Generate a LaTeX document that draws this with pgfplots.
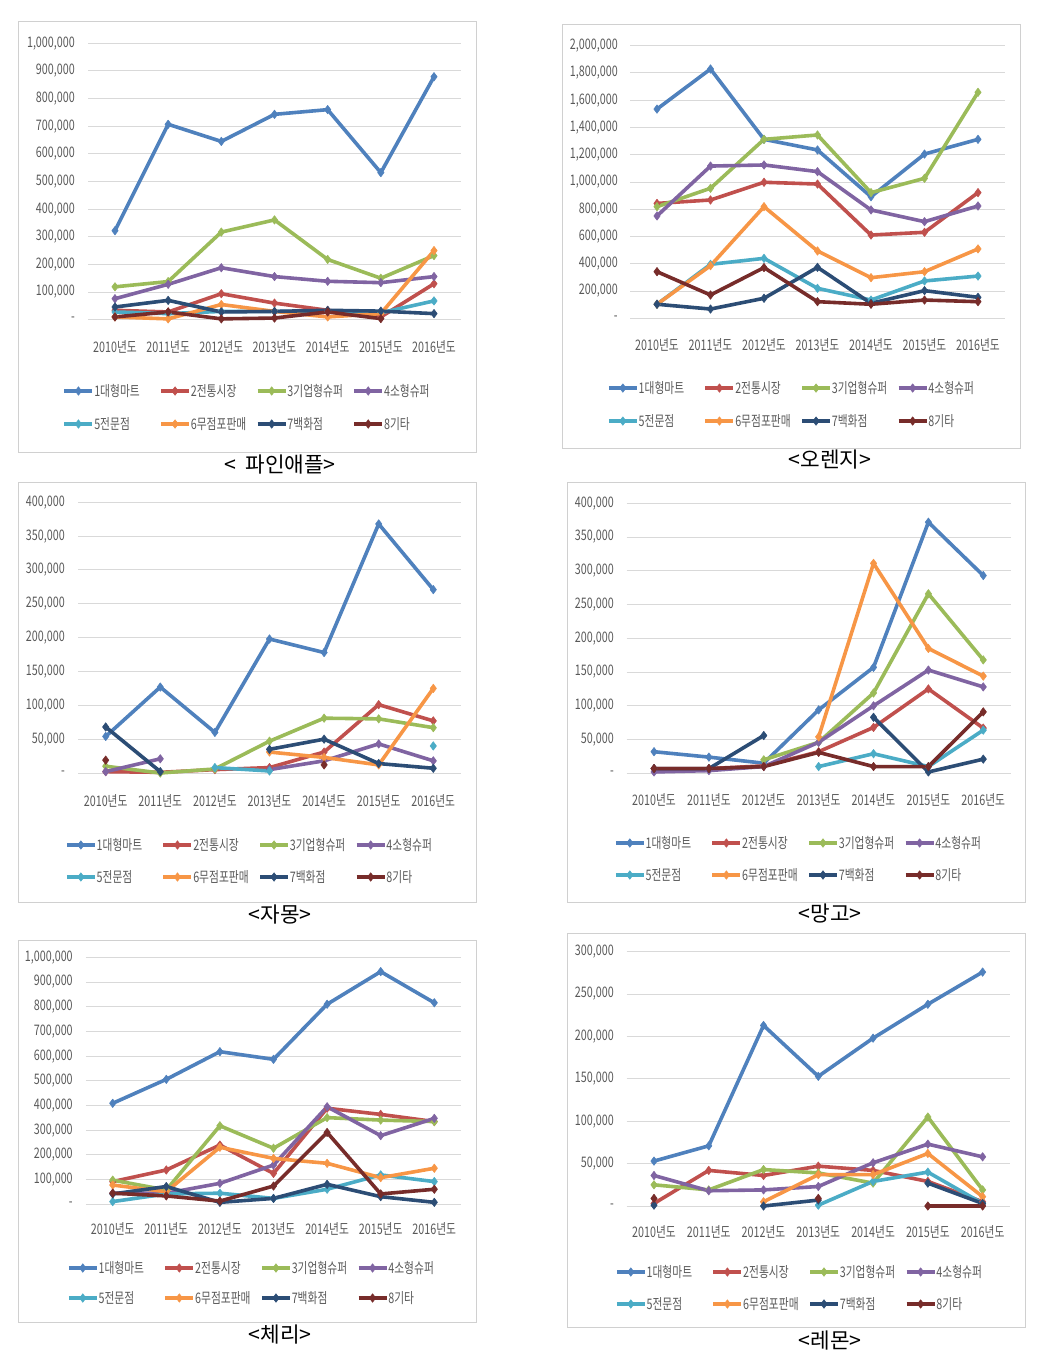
\documentclass[border=0pt]{standalone}
\usepackage{pgfplots}
\pgfplotsset{compat=1.18}
\usepackage{fontspec}
\newfontfamily\kr[FakeStretch=0.74]{Noto Sans CJK KR}
\newfontfamily\krcap{Noto Sans CJK KR}
\definecolor{c1}{HTML}{4F81BD}
\definecolor{c2}{HTML}{C0504D}
\definecolor{c3}{HTML}{9BBB59}
\definecolor{c4}{HTML}{8064A2}
\definecolor{c5}{HTML}{4BACC6}
\definecolor{c6}{HTML}{F79646}
\definecolor{c7}{HTML}{2C4D75}
\definecolor{c8}{HTML}{772C2A}
\definecolor{gridc}{HTML}{D9D9D9}
\definecolor{tickc}{HTML}{595959}
\definecolor{boxc}{HTML}{D0D0D0}
\newcommand\tfont{\kr\fontsize{10.9}{12}\selectfont}
\newcommand\cfont{\krcap\fontsize{16}{18}\selectfont}
\pgfplotsset{
  legend image code/.code={\draw[mark repeat=2,mark phase=2,#1] plot coordinates {(0pt,0pt) (10.5pt,0pt) (21pt,0pt)};},
  panel/.style={
    scale only axis, xmin=-0.5, xmax=6.5, ymin=0,
    axis line style={draw=none}, major tick length=0pt,
    ymajorgrids, grid style={line width=0.75pt, gridc},
    scaled y ticks=false,
    xtick={0,1,2,3,4,5,6},
    xticklabels={2010년도,2011년도,2012년도,2013년도,2014년도,2015년도,2016년도},
    tick label style={font=\tfont, text=tickc, inner sep=0pt},
    xticklabel style={anchor=center},
    yticklabel style={anchor=east},
    unbounded coords=jump, clip=false,
    legend columns=4,
    legend style={draw=none, fill=none, inner sep=0pt, outer sep=0pt, anchor=north west, at={(0,0)},
       nodes={inner sep=0pt, text height=8.5pt, text depth=0.5pt, font=\tfont, text=tickc, text width=48.75pt, align=left},
       cells={anchor=west}, column sep=0pt},
  },
  sbase/.style={line width=2.7pt, line join=round, mark=diamond*, mark size=3.2pt, mark options={solid, line width=0.4pt}},
  s1/.style={c1, sbase},
  s2/.style={c2, sbase},
  s3/.style={c3, sbase},
  s4/.style={c4, sbase},
  s5/.style={c5, sbase},
  s6/.style={c6, sbase},
  s7/.style={c7, sbase},
  s8/.style={c8, sbase},
}
\begin{document}
\begin{tikzpicture}
\path (0,0) rectangle (787.5pt,-1021.5pt);
% boxes
\draw[boxc, line width=0.75pt] (13.5pt,-16.5pt) rectangle (357pt,-339pt);
\draw[boxc, line width=0.75pt] (421.5pt,-18.75pt) rectangle (765pt,-336pt);
\draw[boxc, line width=0.75pt] (13.5pt,-361.5pt) rectangle (357pt,-676.5pt);
\draw[boxc, line width=0.75pt] (425.25pt,-361.5pt) rectangle (768.75pt,-676.5pt);
\draw[boxc, line width=0.75pt] (13.5pt,-705pt) rectangle (357pt,-991.5pt);
\draw[boxc, line width=0.75pt] (425.25pt,-699.75pt) rectangle (768.75pt,-995.25pt);
% captions
\node[font=\cfont] at (210pt,-348.75pt) {<\hspace{7pt}파인애플>};
\node[font=\cfont] at (622.5pt,-345pt) {<오렌지>};
\node[font=\cfont] at (210pt,-686.25pt) {<자몽>};
\node[font=\cfont] at (622.5pt,-684.75pt) {<망고>};
\node[font=\cfont] at (210pt,-1001.25pt) {<체리>};
\node[font=\cfont] at (622.5pt,-1005pt) {<레몬>};

% ---------------- Pineapple
\begin{axis}[panel, at={(66.3pt,-239.78pt)}, width=279.15pt, height=207.3pt, ymax=1000000,
 ytick={0,100000,200000,300000,400000,500000,600000,700000,800000,900000,1000000},
 yticklabels={{-},{100,000},{200,000},{300,000},{400,000},{500,000},{600,000},{700,000},{800,000},{900,000},{1,000,000}},
 yticklabel style={xshift=-10pt}, xticklabel style={yshift=-20.5pt},
 legend style={xshift=-19.3pt, yshift=-48.97pt, row sep=15.75pt}]
\addplot[s1] coordinates {(0,322000) (1,707000) (2,645000) (3,743000) (4,760000) (5,532000) (6,879000)};
\addplot[s2] coordinates {(0,34000) (1,28000) (2,94000) (3,60000) (4,34000) (5,10000) (6,130000)};
\addplot[s3] coordinates {(0,119000) (1,138000) (2,317000) (3,361000) (4,218000) (5,150000) (6,232000)};
\addplot[s4] coordinates {(0,76000) (1,128000) (2,188000) (3,156000) (4,139000) (5,134000) (6,156000)};
\addplot[s5] coordinates {(0,28000) (1,22000) (2,30000) (3,30000) (4,30000) (5,25000) (6,68000)};
\addplot[s6] coordinates {(0,10000) (1,3000) (2,55000) (3,30000) (4,10000) (5,22000) (6,250000)};
\addplot[s7] coordinates {(0,46000) (1,70000) (2,28000) (3,30000) (4,34000) (5,31000) (6,22000)};
\addplot[s8] coordinates {(0,10000) (1,28000) (2,3000) (3,6000) (4,28000) (5,4000) (6,nan)};
\legend{1대형마트,2전통시장,3기업형슈퍼,4소형슈퍼,5전문점,6무점포판매,7백화점,8기타}
\end{axis}

% ---------------- Orange
\begin{axis}[panel, at={(472.69pt,-238.73pt)}, width=280.88pt, height=204.45pt, ymax=2000000,
 ytick={0,200000,400000,600000,800000,1000000,1200000,1400000,1600000,1800000,2000000},
 yticklabels={{-},{200,000},{400,000},{600,000},{800,000},{1,000,000},{1,200,000},{1,400,000},{1,600,000},{1,800,000},{2,000,000}},
 yticklabel style={xshift=-9.2pt}, xticklabel style={yshift=-20pt},
 legend style={xshift=-17.4pt, yshift=-47.8pt, row sep=15.75pt}]
\addplot[s1] coordinates {(0,1535000) (1,1829000) (2,1313000) (3,1235000) (4,892000) (5,1205000) (6,1313000)};
\addplot[s2] coordinates {(0,843000) (1,868000) (2,998000) (3,985000) (4,611000) (5,631000) (6,922000)};
\addplot[s3] coordinates {(0,819000) (1,954000) (2,1313000) (3,1345000) (4,922000) (5,1027000) (6,1658000)};
\addplot[s4] coordinates {(0,751000) (1,1117000) (2,1125000) (3,1076000) (4,795000) (5,709000) (6,824000)};
\addplot[s5] coordinates {(0,103000) (1,396000) (2,440000) (3,220000) (4,134000) (5,274000) (6,310000)};
\addplot[s6] coordinates {(0,103000) (1,386000) (2,819000) (3,494000) (4,298000) (5,342000) (6,509000)};
\addplot[s7] coordinates {(0,103000) (1,68000) (2,147000) (3,374000) (4,110000) (5,203000) (6,154000)};
\addplot[s8] coordinates {(0,342000) (1,171000) (2,372000) (3,122000) (4,103000) (5,134000) (6,122000)};
\legend{1대형마트,2전통시장,3기업형슈퍼,4소형슈퍼,5전문점,6무점포판매,7백화점,8기타}
\end{axis}

% ---------------- Jamong
\begin{axis}[panel, at={(58.8pt,-579.75pt)}, width=286.65pt, height=203.03pt, ymax=400000,
 ytick={0,50000,100000,150000,200000,250000,300000,350000,400000},
 yticklabels={{-},{50,000},{100,000},{150,000},{200,000},{250,000},{300,000},{350,000},{400,000}},
 yticklabel style={xshift=-10pt}, xticklabel style={yshift=-21pt},
 legend style={xshift=-10pt, yshift=-49.5pt, row sep=15pt}]
\addplot[s1] coordinates {(0,54000) (1,127000) (2,60000) (3,198000) (4,178000) (5,368000) (6,271000)};
\addplot[s2] coordinates {(0,2000) (1,1000) (2,5000) (3,8000) (4,31000) (5,101000) (6,77000)};
\addplot[s3] coordinates {(0,10000) (1,0) (2,6000) (3,47000) (4,81000) (5,80000) (6,67000)};
\addplot[s4] coordinates {(0,2000) (1,21000) (2,nan) (3,5000) (4,18000) (5,43000) (6,18000)};
\addplot[s5] coordinates {(0,nan) (1,nan) (2,8000) (3,3000) (4,nan) (5,nan) (6,40000)};
\addplot[s6] coordinates {(0,nan) (1,nan) (2,nan) (3,31000) (4,23000) (5,12000) (6,125000)};
\addplot[s7] coordinates {(0,68000) (1,2000) (2,nan) (3,35000) (4,50000) (5,14000) (6,7000)};
\addplot[s8] coordinates {(0,19000) (1,nan) (2,nan) (3,nan) (4,12000) (5,nan) (6,nan)};
\legend{1대형마트,2전통시장,3기업형슈퍼,4소형슈퍼,5전문점,6무점포판매,7백화점,8기타}
\end{axis}

% ---------------- Mango
\begin{axis}[panel, at={(469.95pt,-579.98pt)}, width=288.08pt, height=202.5pt, ymax=400000,
 ytick={0,50000,100000,150000,200000,250000,300000,350000,400000},
 yticklabels={{-},{50,000},{100,000},{150,000},{200,000},{250,000},{300,000},{350,000},{400,000}},
 yticklabel style={xshift=-9.45pt}, xticklabel style={yshift=-20pt},
 legend style={xshift=-9.45pt, yshift=-47.77pt, row sep=15pt}]
\addplot[s1] coordinates {(0,32000) (1,24000) (2,15000) (3,94000) (4,157000) (5,372000) (6,293000)};
\addplot[s2] coordinates {(0,7000) (1,7000) (2,11000) (3,32000) (4,68000) (5,125000) (6,67000)};
\addplot[s3] coordinates {(0,nan) (1,nan) (2,20000) (3,46000) (4,119000) (5,266000) (6,168000)};
\addplot[s4] coordinates {(0,2000) (1,4000) (2,10000) (3,46000) (4,100000) (5,153000) (6,128000)};
\addplot[s5] coordinates {(0,nan) (1,nan) (2,nan) (3,10000) (4,29000) (5,10000) (6,64000)};
\addplot[s6] coordinates {(0,nan) (1,nan) (2,nan) (3,54000) (4,311000) (5,185000) (6,144000)};
\addplot[s7] coordinates {(0,7000) (1,7000) (2,56000) (3,nan) (4,83000) (5,2000) (6,21000)};
\addplot[s8] coordinates {(0,7000) (1,7000) (2,10000) (3,31000) (4,10000) (5,10000) (6,91000)};
\legend{1대형마트,2전통시장,3기업형슈퍼,4소형슈퍼,5전문점,6무점포판매,7백화점,8기타}
\end{axis}

% ---------------- Cherry
\begin{axis}[panel, at={(64.43pt,-903.23pt)}, width=281.4pt, height=185.25pt, ymax=1000000,
 ytick={0,100000,200000,300000,400000,500000,600000,700000,800000,900000,1000000},
 yticklabels={{-},{100,000},{200,000},{300,000},{400,000},{500,000},{600,000},{700,000},{800,000},{900,000},{1,000,000}},
 yticklabel style={xshift=-9.7pt}, xticklabel style={yshift=-18.5pt},
 legend style={xshift=-14.2pt, yshift=-43.27pt, row sep=13.5pt}]
\addplot[s1] coordinates {(0,409000) (1,506000) (2,618000) (3,587000) (4,810000) (5,942000) (6,816000)};
\addplot[s2] coordinates {(0,92000) (1,139000) (2,240000) (3,125000) (4,389000) (5,364000) (6,335000)};
\addplot[s3] coordinates {(0,98000) (1,58000) (2,318000) (3,227000) (4,351000) (5,341000) (6,335000)};
\addplot[s4] coordinates {(0,45000) (1,45000) (2,85000) (3,159000) (4,395000) (5,278000) (6,348000)};
\addplot[s5] coordinates {(0,11000) (1,42000) (2,45000) (3,24000) (4,61000) (5,119000) (6,92000)};
\addplot[s6] coordinates {(0,78000) (1,51000) (2,231000) (3,186000) (4,166000) (5,108000) (6,146000)};
\addplot[s7] coordinates {(0,42000) (1,72000) (2,8000) (3,24000) (4,81000) (5,31000) (6,8000)};
\addplot[s8] coordinates {(0,45000) (1,34000) (2,13000) (3,74000) (4,291000) (5,42000) (6,61000)};
\legend{1대형마트,2전통시장,3기업형슈퍼,4소형슈퍼,5전문점,6무점포판매,7백화점,8기타}
\end{axis}

% ---------------- Lemon
\begin{axis}[panel, at={(469.95pt,-904.5pt)}, width=287.55pt, height=190.73pt, ymax=300000,
 ytick={0,50000,100000,150000,200000,250000,300000},
 yticklabels={{-},{50,000},{100,000},{150,000},{200,000},{250,000},{300,000}},
 yticklabel style={xshift=-9.45pt}, xticklabel style={yshift=-19.5pt},
 legend style={xshift=-8.7pt, yshift=-45pt, row sep=15pt}]
\addplot[s1] coordinates {(0,53000) (1,71000) (2,213000) (3,153000) (4,198000) (5,238000) (6,276000)};
\addplot[s2] coordinates {(0,3000) (1,42000) (2,36000) (3,47000) (4,42000) (5,29000) (6,5000)};
\addplot[s3] coordinates {(0,25000) (1,19000) (2,43000) (3,39000) (4,27000) (5,105000) (6,19000)};
\addplot[s4] coordinates {(0,36000) (1,18000) (2,19000) (3,23000) (4,51000) (5,73000) (6,58000)};
\addplot[s5] coordinates {(0,nan) (1,nan) (2,nan) (3,1000) (4,29000) (5,40000) (6,3000)};
\addplot[s6] coordinates {(0,nan) (1,nan) (2,5000) (3,37000) (4,37000) (5,62000) (6,11000)};
\addplot[s7] coordinates {(0,1000) (1,nan) (2,0) (3,7000) (4,nan) (5,27000) (6,3000)};
\addplot[s8] coordinates {(0,9000) (1,nan) (2,nan) (3,9000) (4,nan) (5,0) (6,0)};
\legend{1대형마트,2전통시장,3기업형슈퍼,4소형슈퍼,5전문점,6무점포판매,7백화점,8기타}
\end{axis}
\end{tikzpicture}
\end{document}
